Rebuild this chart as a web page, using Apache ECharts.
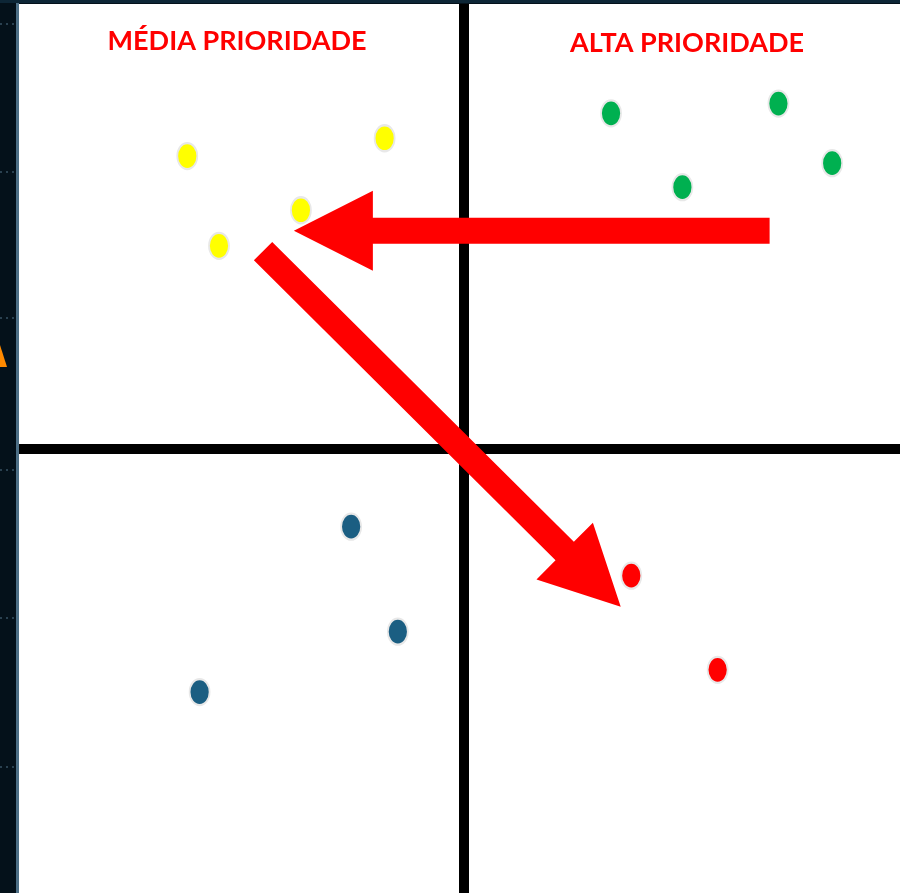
<!DOCTYPE html>
<html>
<head>
<meta charset="utf-8">
<script src="https://cdn.jsdelivr.net/npm/echarts@6/dist/echarts.min.js"></script>
<style>
  html, body { margin: 0; padding: 0; background: #04111a; }
  #chart { width: 900px; height: 893px; }
</style>
</head>
<body>
<div id="chart"></div>
<script>
// quadrant points [x, y] on a 0-100 scale
const altaPrioridade = [[67.2, 87.7], [86.2, 88.8], [92.3, 82.1], [75.3, 79.4]];
const mediaPrioridade = [[19.1, 82.9], [41.5, 84.9], [32.0, 76.8], [22.7, 72.8]];
const baixaPrioridade = [[37.7, 41.2], [43.0, 29.4], [20.5, 22.6]];
const urgente = [[69.5, 35.7], [79.3, 25.1]];

// arrows: [x1, y1, x2 (tip), y2 (tip)]
const arrows = [
  [85.2, 74.5, 31.2, 74.5],
  [27.7, 72.2, 68.3, 32.2]
];

const titles = ['MÉDIA PRIORIDADE', 'ALTA PRIORIDADE'];
const quadrantX = 50.5;
const quadrantY = 50;

const chart = echarts.init(document.getElementById('chart'));

function dot(color) {
  return {
    type: 'scatter',
    symbol: 'circle',
    symbolSize: [20, 26],
    itemStyle: { color: color, borderColor: '#e8e8e8', borderWidth: 2, opacity: 1 },
    z: 3,
    silent: true
  };
}

function renderArrow(params, api) {
  const p1 = api.coord([api.value(0), api.value(1)]);
  const p2 = api.coord([api.value(2), api.value(3)]);
  const dx = p2[0] - p1[0], dy = p2[1] - p1[1];
  const len = Math.sqrt(dx * dx + dy * dy);
  const ux = dx / len, uy = dy / len;
  const nx = -uy, ny = ux;
  const headLen = 79, headHalf = 40, shaftHalf = 13;
  const bx = p2[0] - ux * headLen, by = p2[1] - uy * headLen;
  const pts = [
    [p1[0] + nx * shaftHalf, p1[1] + ny * shaftHalf],
    [bx + nx * shaftHalf, by + ny * shaftHalf],
    [bx + nx * headHalf, by + ny * headHalf],
    [p2[0], p2[1]],
    [bx - nx * headHalf, by - ny * headHalf],
    [bx - nx * shaftHalf, by - ny * shaftHalf],
    [p1[0] - nx * shaftHalf, p1[1] - ny * shaftHalf]
  ];
  return { type: 'polygon', shape: { points: pts }, style: { fill: '#ff0000' } };
}

// dark side panel decorations
const sideDots = [24, 172, 318, 470, 618, 767];
const sideGraphic = sideDots.map(y => ({
  type: 'line',
  shape: { x1: 0, y1: y, x2: 16, y2: y },
  style: { stroke: '#2a4150', lineWidth: 2, lineDash: [2, 4] },
  silent: true
}));

chart.setOption({
  backgroundColor: '#04111a',
  animation: false,
  grid: {
    left: 19, right: 0, top: 4, bottom: 0,
    show: true, backgroundColor: '#ffffff', borderWidth: 0
  },
  xAxis: { type: 'value', min: 0, max: 100, show: false },
  yAxis: { type: 'value', min: 0, max: 100, show: false },
  graphic: [
    { type: 'rect', shape: { x: 0, y: 0, width: 900, height: 3 }, style: { fill: '#0d2636' }, silent: true },
    { type: 'rect', shape: { x: 16, y: 3, width: 3, height: 890 }, style: { fill: '#4d6f86' }, silent: true },
    { type: 'polygon', shape: { points: [[0, 345], [0, 367], [7, 367]] }, style: { fill: '#ff8a00' }, silent: true },
    ...sideGraphic,
    {
      type: 'text', x: 237, y: 41, z: 10,
      style: { text: titles[0], fill: '#ff0000', font: 'bold 27px Lato', textAlign: 'center', textVerticalAlign: 'middle' }
    },
    {
      type: 'text', x: 687, y: 43, z: 10,
      style: { text: titles[1], fill: '#ff0000', font: 'bold 27px Lato', textAlign: 'center', textVerticalAlign: 'middle' }
    }
  ],
  series: [
    {
      type: 'scatter',
      data: [],
      silent: true,
      markLine: {
        silent: true,
        symbol: 'none',
        label: { show: false },
        lineStyle: { color: '#000000', width: 10, type: 'solid' },
        data: [{ xAxis: quadrantX }, { yAxis: quadrantY }]
      }
    },
    Object.assign(dot('#00b050'), { data: altaPrioridade }),
    Object.assign(dot('#ffff00'), { data: mediaPrioridade }),
    Object.assign(dot('#1b5e82'), { data: baixaPrioridade }),
    Object.assign(dot('#ff0000'), { data: urgente }),
    {
      type: 'custom',
      renderItem: renderArrow,
      data: arrows,
      z: 5,
      silent: true
    }
  ]
});
</script>
</body>
</html>
